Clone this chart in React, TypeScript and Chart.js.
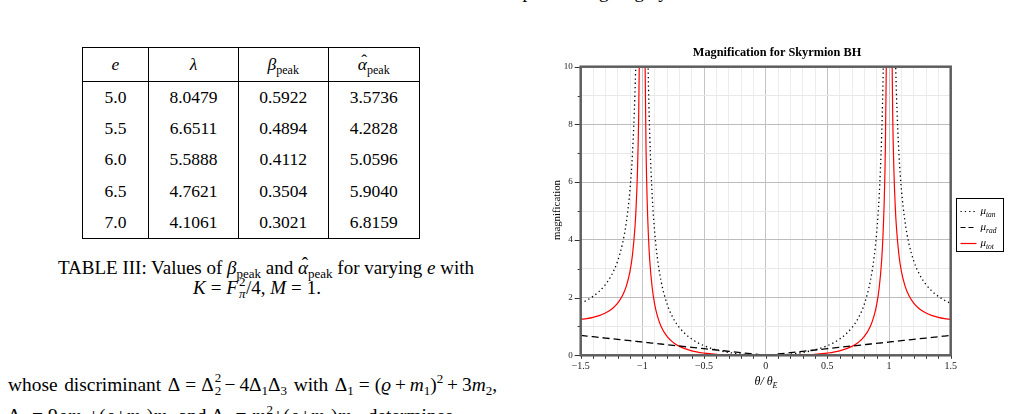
import React, { useEffect, useRef } from "react";
import { Chart, registerables } from "chart.js";

Chart.register(...registerables);

const FONT = "'Liberation Serif', 'Times New Roman', Times, serif";

// Sample positions theta / theta_E
const THETA = [
  -1.5, -1.45, -1.4, -1.35, -1.3, -1.25, -1.2, -1.16, -1.13, -1.1, -1.08, -1.06, -1.05, -1.04, -1.03, -1.02, -1.0,
  -0.98, -0.97, -0.96, -0.95, -0.94, -0.92, -0.9, -0.88, -0.85, -0.8, -0.75, -0.7, -0.6, -0.5, -0.4, -0.3, -0.2, -0.1,
  0,
  0.1, 0.2, 0.3, 0.4, 0.5, 0.6, 0.7, 0.75, 0.8, 0.85, 0.88, 0.9, 0.92, 0.94, 0.95, 0.96, 0.97, 0.98,
  1.0, 1.02, 1.03, 1.04, 1.05, 1.06, 1.08, 1.1, 1.13, 1.16, 1.2, 1.25, 1.3, 1.35, 1.4, 1.45, 1.5,
];

// Tangential magnification (diverges on the Einstein ring)
const MU_TAN = [
  1.8, 1.907, 2.042, 2.216, 2.449, 2.778, 3.273, 3.894, 4.611, 5.762, 7.01, 9.091, 10.756, 13.25, 17.42, 25.75, null,
  24.25, 15.92, 11.755, 9.256, 7.591, 5.51, 4.263, 3.433, 2.604, 1.778, 1.286, 0.961, 0.563, 0.333, 0.19, 0.099, 0.042, 0.01,
  0,
  0.01, 0.042, 0.099, 0.19, 0.333, 0.563, 0.961, 1.286, 1.778, 2.604, 3.433, 4.263, 5.51, 7.591, 9.256, 11.755, 15.92, 24.25,
  null, 25.75, 17.42, 13.25, 10.756, 9.091, 7.01, 5.762, 4.611, 3.894, 3.273, 2.778, 2.449, 2.216, 2.042, 1.907, 1.8,
];

// Radial magnification
const MU_RAD = [
  0.69, 0.667, 0.644, 0.621, 0.598, 0.575, 0.552, 0.534, 0.52, 0.506, 0.497, 0.488, 0.483, 0.478, 0.474, 0.469, 0.46,
  0.451, 0.446, 0.442, 0.437, 0.432, 0.423, 0.414, 0.405, 0.391, 0.368, 0.345, 0.322, 0.276, 0.23, 0.184, 0.138, 0.092, 0.046,
  0,
  0.046, 0.092, 0.138, 0.184, 0.23, 0.276, 0.322, 0.345, 0.368, 0.391, 0.405, 0.414, 0.423, 0.432, 0.437, 0.442, 0.446, 0.451,
  0.46, 0.469, 0.474, 0.478, 0.483, 0.488, 0.497, 0.506, 0.52, 0.534, 0.552, 0.575, 0.598, 0.621, 0.644, 0.667, 0.69,
];

// Total magnification
const MU_TOT = [
  1.242, 1.272, 1.315, 1.376, 1.465, 1.597, 1.807, 2.079, 2.398, 2.916, 3.484, 4.436, 5.195, 6.334, 8.257, 12.08, null,
  10.94, 7.1, 5.196, 4.045, 3.279, 2.331, 1.765, 1.39, 1.018, 0.654, 0.444, 0.309, 0.155, 0.077, 0.035, 0.014, 0.004, 0.0005,
  0,
  0.0005, 0.004, 0.014, 0.035, 0.077, 0.155, 0.309, 0.444, 0.654, 1.018, 1.39, 1.765, 2.331, 3.279, 4.045, 5.196, 7.1, 10.94,
  null, 12.08, 8.257, 6.334, 5.195, 4.436, 3.484, 2.916, 2.398, 2.079, 1.807, 1.597, 1.465, 1.376, 1.315, 1.272, 1.242,
];

const X_LABELED = [-1.5, -1, -0.5, 0, 0.5, 1, 1.5];
const X_LABELS = ["\u22121.5", "\u22121", "\u22120.5", "0", "0.5", "1", "1.5"];
const Y_LABELED = [0, 2, 4, 6, 8, 10];
const Y_LABELS = ["0", "2", "4", "6", "8", "10"];

const TITLE = "Magnification for Skyrmion BH";
const TAN_DASH = [1.3, 3];
const RAD_DASH = [7, 4];
const LEGEND = [
  { sub: "tan", color: "#000", dash: TAN_DASH },
  { sub: "rad", color: "#000", dash: [5, 3] },
  { sub: "tot", color: "#ff0000", dash: [] as number[] },
];

// Table rows: e, lambda, beta_peak, alpha_peak
const TABLE_E = ["5.0", "5.5", "6.0", "6.5", "7.0"];
const TABLE_LAMBDA = ["8.0479", "6.6511", "5.5888", "4.7621", "4.1061"];
const TABLE_BETA = ["0.5922", "0.4894", "0.4112", "0.3504", "0.3021"];
const TABLE_ALPHA = ["3.5736", "4.2828", "5.0596", "5.9040", "6.8159"];

const labelIndex = (list: number[], v: number) => list.findIndex((t) => Math.abs(t - v) < 1e-6);

const pts = (ys: (number | null)[]) => THETA.map((t, i) => ({ x: t, y: ys[i] }));

const framePlugin = {
  id: "frame",
  afterDraw(chart: any) {
    const { ctx, chartArea: a, scales } = chart;
    const xs = scales.x;
    const ys = scales.y;
    ctx.save();

    // tick marks
    ctx.strokeStyle = "#333";
    ctx.lineWidth = 1;
    ctx.beginPath();
    xs.ticks.forEach((t: any) => {
      const px = Math.round(xs.getPixelForValue(t.value)) + 0.5;
      ctx.moveTo(px, a.bottom);
      ctx.lineTo(px, a.bottom + 3.5);
    });
    ys.ticks.forEach((t: any) => {
      const py = Math.round(ys.getPixelForValue(t.value)) + 0.5;
      const len = labelIndex(Y_LABELED, t.value) >= 0 ? 6 : 3;
      ctx.moveTo(a.left - len, py);
      ctx.lineTo(a.left, py);
    });
    ctx.stroke();

    // plot frame
    ctx.strokeStyle = "#5e5e5e";
    ctx.lineWidth = 2.5;
    ctx.strokeRect(a.left, a.top, a.right - a.left, a.bottom - a.top);

    // title
    ctx.fillStyle = "#000";
    ctx.font = `bold 12.3px ${FONT}`;
    ctx.textAlign = "center";
    ctx.textBaseline = "middle";
    ctx.fillText(TITLE, 257, 13);

    // x axis title: theta / theta_E
    ctx.textBaseline = "alphabetic";
    ctx.textAlign = "left";
    ctx.font = `italic 12px ${FONT}`;
    const main = "\u03b8/ \u03b8";
    const wMain = ctx.measureText(main).width;
    ctx.font = `italic 8px ${FONT}`;
    const wSub = ctx.measureText("E").width;
    const x0 = 246 - (wMain + wSub) / 2;
    ctx.font = `italic 12px ${FONT}`;
    ctx.fillText(main, x0, 345);
    ctx.font = `italic 8px ${FONT}`;
    ctx.fillText("E", x0 + wMain, 348);

    // y axis title
    ctx.save();
    ctx.translate(37, 170);
    ctx.rotate(-Math.PI / 2);
    ctx.font = `10.8px ${FONT}`;
    ctx.textAlign = "center";
    ctx.textBaseline = "middle";
    ctx.fillText("magnification", 0, 0);
    ctx.restore();

    // legend
    const lx = 436.5;
    const ly = 158.5;
    ctx.strokeStyle = "#000";
    ctx.lineWidth = 1;
    ctx.setLineDash([]);
    ctx.strokeRect(lx, ly, 47, 53);
    LEGEND.forEach((item, i) => {
      const cy = ly + 13 + i * 16;
      ctx.strokeStyle = item.color;
      ctx.lineWidth = 1.2;
      ctx.setLineDash(item.dash);
      ctx.beginPath();
      ctx.moveTo(lx + 4, cy);
      ctx.lineTo(lx + 20, cy);
      ctx.stroke();
      ctx.setLineDash([]);
      ctx.fillStyle = "#000";
      ctx.textAlign = "left";
      ctx.textBaseline = "alphabetic";
      ctx.font = `italic 11px ${FONT}`;
      ctx.fillText("\u03bc", lx + 24, cy + 2.5);
      const wm = ctx.measureText("\u03bc").width;
      ctx.font = `italic 7.5px ${FONT}`;
      ctx.fillText(item.sub, lx + 24 + wm, cy + 5);
    });

    ctx.restore();
  },
};

function ChartPanel() {
  const ref = useRef<HTMLCanvasElement | null>(null);
  useEffect(() => {
    if (!ref.current) return;
    const chart = new Chart(ref.current, {
      type: "line",
      data: {
        datasets: [
          {
            label: "mu_tan",
            data: pts(MU_TAN),
            borderColor: "#000",
            borderWidth: 1.3,
            borderDash: TAN_DASH,
            pointRadius: 0,
            cubicInterpolationMode: "monotone",
            spanGaps: false,
          },
          {
            label: "mu_rad",
            data: pts(MU_RAD),
            borderColor: "#000",
            borderWidth: 1.3,
            borderDash: RAD_DASH,
            pointRadius: 0,
            cubicInterpolationMode: "monotone",
          },
          {
            label: "mu_tot",
            data: pts(MU_TOT),
            borderColor: "#ff0000",
            borderWidth: 1.2,
            pointRadius: 0,
            cubicInterpolationMode: "monotone",
            spanGaps: false,
          },
        ],
      } as any,
      options: {
        animation: false,
        responsive: false,
        devicePixelRatio: 1,
        layout: { padding: { top: 26.7, right: 59.3, left: 0, bottom: 0 } },
        plugins: {
          legend: { display: false },
          title: { display: false },
          tooltip: { enabled: false },
        },
        scales: {
          x: {
            type: "linear",
            min: -1.5,
            max: 1.5,
            afterFit: (s: any) => {
              s.height = 44.7;
            },
            border: { display: false },
            grid: {
              drawTicks: false,
              lineWidth: 1,
              color: (c: any) =>
                c.tick && labelIndex(X_LABELED, c.tick.value) >= 0 ? "#c4c4c4" : "#ededed",
            },
            ticks: {
              stepSize: 0.1,
              autoSkip: false,
              maxRotation: 0,
              padding: 5,
              color: "#222",
              font: { family: FONT, size: 10 },
              callback: (v: any) => {
                const i = labelIndex(X_LABELED, Number(v));
                return i >= 0 ? X_LABELS[i] : "";
              },
            },
          },
          y: {
            type: "linear",
            min: 0,
            max: 10,
            afterFit: (s: any) => {
              s.width = 60.7;
            },
            border: { display: false },
            grid: {
              drawTicks: false,
              lineWidth: 1,
              color: (c: any) =>
                c.tick && labelIndex(Y_LABELED, c.tick.value) >= 0 ? "#bdbdbd" : "#e8e8e8",
            },
            ticks: {
              stepSize: 1,
              autoSkip: false,
              padding: 8,
              color: "#222",
              font: { family: FONT, size: 9 },
              callback: (v: any) => {
                const i = labelIndex(Y_LABELED, Number(v));
                return i >= 0 ? Y_LABELS[i] : "";
              },
            },
          },
        },
      } as any,
      plugins: [framePlugin],
    });
    return () => chart.destroy();
  }, []);
  return (
    <canvas
      ref={ref}
      width={490}
      height={360}
      style={{ position: "absolute", left: 520, top: 40, width: 490, height: 360 }}
    />
  );
}

const Sub = ({ children, size = 12 }: { children: React.ReactNode; size?: number }) => (
  <span style={{ fontSize: size, verticalAlign: "-0.3em", lineHeight: 0, fontStyle: "normal" }}>{children}</span>
);

const Sup = ({ children, size = 13 }: { children: React.ReactNode; size?: number }) => (
  <span style={{ fontSize: size, verticalAlign: "0.6em", lineHeight: 0 }}>{children}</span>
);

// superscript stacked over a subscript; F = surrounding font size, s = script size
const SubSup = ({ sub, sup, w = 7, F = 19, s = 13 }: { sub: React.ReactNode; sup: React.ReactNode; w?: number; F?: number; s?: number }) => (
  <span style={{ display: "inline-block", position: "relative", width: w, height: 0, verticalAlign: "baseline" }}>
    <span style={{ position: "absolute", left: 1, top: -0.42 * F - 0.8375 * s, fontSize: s, lineHeight: 1 }}>{sup}</span>
    <span style={{ position: "absolute", left: 1, top: 0.2 * F - 0.8375 * s, fontSize: s, lineHeight: 1 }}>{sub}</span>
  </span>
);

// italic letter with a circumflex accent
const Hat = ({ children }: { children: React.ReactNode }) => (
  <span style={{ position: "relative", display: "inline-block", fontStyle: "italic" }}>
    {children}
    <span style={{ position: "absolute", left: "0.2em", top: "-0.22em", fontStyle: "normal" }}>ˆ</span>
  </span>
);

// binary relation / operator with math spacing
const Op = ({ c, gap = 0.26 }: { c: string; gap?: number }) => (
  <span style={{ margin: `0 ${gap}em` }}>{c}</span>
);

const cellBase: React.CSSProperties = {
  padding: 0,
  textAlign: "center",
  verticalAlign: "middle",
  borderLeft: "1px solid #000",
  fontFamily: FONT,
  fontSize: 17.5,
  color: "#000",
};

function ParamTable() {
  return (
    <table
      style={{
        position: "absolute",
        left: 82,
        top: 47,
        width: 337,
        tableLayout: "fixed",
        borderCollapse: "collapse",
        border: "1px solid #000",
        fontFamily: FONT,
        fontSize: 17.5,
        color: "#000",
      }}
    >
      <colgroup>
        <col style={{ width: 66 }} />
        <col style={{ width: 90 }} />
        <col style={{ width: 89.5 }} />
        <col style={{ width: 91.5 }} />
      </colgroup>
      <tbody>
        <tr style={{ height: 33.7, borderBottom: "1px solid #000" }}>
          <td style={cellBase}>
            <i>e</i>
          </td>
          <td style={cellBase}>
            <i>λ</i>
          </td>
          <td style={cellBase}>
            <i>β</i>
            <Sub>peak</Sub>
          </td>
          <td style={cellBase}>
            <Hat>α</Hat>
            <Sub>peak</Sub>
          </td>
        </tr>
        {TABLE_E.map((e, i) => (
          <tr key={e} style={{ height: 31.5 }}>
            <td style={{ ...cellBase, paddingTop: i === 0 ? 1 : 0 }}>{e}</td>
            <td style={cellBase}>{TABLE_LAMBDA[i]}</td>
            <td style={cellBase}>{TABLE_BETA[i]}</td>
            <td style={cellBase}>{TABLE_ALPHA[i]}</td>
          </tr>
        ))}
      </tbody>
    </table>
  );
}

export default function App() {
  const text: React.CSSProperties = {
    position: "absolute",
    fontFamily: FONT,
    fontSize: 19,
    color: "#000",
    whiteSpace: "nowrap",
  };
  const justified: React.CSSProperties = {
    textAlign: "justify",
    textAlignLast: "justify" as any,
  };
  return (
    <div
      style={{
        position: "absolute",
        left: 0,
        top: 0,
        width: 1010,
        height: 414,
        overflow: "hidden",
        background: "#fff",
      }}
    >
      <div style={{ ...text, left: 513, top: -17, lineHeight: "17px" }}>up to the big ring by</div>

      <ParamTable />

      <div style={{ ...text, ...justified, left: 58, width: 413, top: 258, lineHeight: "20px" }}>
        TABLE III: Values of <i>β</i>
        <Sub size={13}>peak</Sub> and <Hat>α</Hat>
        <Sub size={13}>peak</Sub> for varying <i>e</i> with
      </div>
      <div style={{ ...text, left: 29, width: 456, top: 278, lineHeight: "20px", textAlign: "center" }}>
        <i>K</i>
        <Op c="=" />
        <i>F</i>
        <SubSup sup="2" sub={<i>π</i>} w={8} />
        /4, <i>M</i>
        <Op c="=" />1.
      </div>

      <div style={{ ...text, ...justified, fontSize: 19.4, left: 8, width: 489, top: 373.5, lineHeight: "22px" }}>
        whose discriminant Δ<Op c="=" />Δ<SubSup sup="2" sub="2" F={19.4} />
        <Op c="−" gap={0.2} />
        4Δ<Sub size={13}>1</Sub>Δ<Sub size={13}>3</Sub> with Δ<Sub size={13}>1</Sub>
        <Op c="=" />(<i>ϱ</i>
        <Op c="+" gap={0.2} />
        <i>m</i>
        <Sub size={13}>1</Sub>)<Sup>2</Sup>
        <Op c="+" gap={0.2} />
        3<i>m</i>
        <Sub size={13}>2</Sub>,
      </div>
      <div style={{ ...text, fontSize: 19.4, left: 8, top: 405, lineHeight: "22px" }}>
        Δ<Sub size={13}>2</Sub>
        <Op c="=" />
        9<i>ϱm</i>
        <Sub size={13}>2</Sub>+(<i>ϱ</i>+<i>m</i>
        <Sub size={13}>1</Sub>)<i>m</i>
        <Sub size={13}>2</Sub> and Δ<Sub size={13}>3</Sub>
        <Op c="=" />
        <i>m</i>
        <SubSup sup="2" sub="2" F={19.4} />
        +(<i>ϱ</i>+<i>m</i>
        <Sub size={13}>1</Sub>)<i>m</i>
        <Sub size={13}>3</Sub>, determines
      </div>

      <ChartPanel />
    </div>
  );
}
